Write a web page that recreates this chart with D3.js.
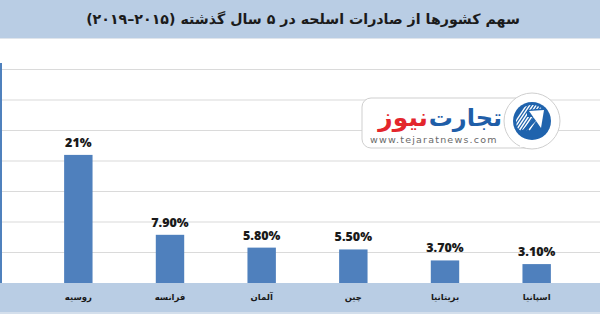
<!DOCTYPE html>
<html>
<head>
<meta charset="utf-8">
<script src="https://cdn.jsdelivr.net/npm/d3@7"></script>
<style>
  body { margin: 0; background: #fff; }
  svg { display: block; }
</style>
</head>
<body>
<script>
// chart data
var titleText = "سهم کشورها از صادرات اسلحه در ۵ سال گذشته (۲۰۱۵–۲۰۱۹)";
var countries = ["روسیه", "فرانسه", "آلمان", "چین", "بریتانیا", "اسپانیا"];
var shares = [21, 7.9, 5.8, 5.5, 3.7, 3.1];
var shareLabels = ["21%", "7.90%", "5.80%", "5.50%", "3.70%", "3.10%"];
var gridValues = [5, 10, 15, 20, 25, 30, 35];

var width = 600,
    height = 314;

var svg = d3.select("body")
  .append("svg")
  .attr("width", width)
  .attr("height", height);

// scales
var x = d3.scaleBand()
  .domain(countries)
  .range([32.5, 582.5])
  .paddingInner(0.69)
  .paddingOuter(0.345);

var y = d3.scaleLinear()
  .domain([0, 35])
  .range([283, 69.5]);

// header band
svg.append("rect")
  .attr("x", 0).attr("y", 0)
  .attr("width", width).attr("height", 38)
  .attr("fill", "#b9cde4");
svg.append("line")
  .attr("x1", 0).attr("x2", width)
  .attr("y1", 38.5).attr("y2", 38.5)
  .attr("stroke", "#dfe5ec");

svg.append("text")
  .attr("x", 303)
  .attr("y", 24)
  .attr("text-anchor", "middle")
  .attr("direction", "rtl")
  .attr("font-family", "DejaVu Sans")
  .attr("font-weight", "bold")
  .attr("font-size", 14.2)
  .attr("fill", "#1b1b1b")
  .text(titleText);

// gridlines
svg.append("g")
  .selectAll("line")
  .data(gridValues)
  .join("line")
  .attr("x1", 2).attr("x2", width)
  .attr("y1", function(d){ return y(d); })
  .attr("y2", function(d){ return y(d); })
  .attr("stroke", "#dadada")
  .attr("stroke-width", 1.2);

// left axis line
svg.append("line")
  .attr("x1", 1).attr("x2", 1)
  .attr("y1", 63).attr("y2", 283)
  .attr("stroke", "#4f81bd")
  .attr("stroke-width", 2);

// bottom category band
svg.append("rect")
  .attr("x", 0).attr("y", y(0))
  .attr("width", width).attr("height", 29)
  .attr("fill", "#b9cde4");
svg.append("rect")
  .attr("x", 0).attr("y", y(0) + 29)
  .attr("width", width).attr("height", 3)
  .attr("fill", "#d4dfec");

// bars
svg.append("g")
  .selectAll("rect")
  .data(shares)
  .join("rect")
  .attr("x", function(d, i){ return x(countries[i]); })
  .attr("y", function(d){ return y(d); })
  .attr("width", x.bandwidth())
  .attr("height", function(d){ return y(0) - y(d); })
  .attr("fill", "#4f80bd");

// value labels
svg.append("g")
  .selectAll("text")
  .data(shares)
  .join("text")
  .attr("x", function(d, i){ return x(countries[i]) + x.bandwidth() / 2; })
  .attr("y", function(d){ return y(d) - 8; })
  .attr("text-anchor", "middle")
  .attr("font-family", "Open Sans")
  .attr("font-weight", 800)
  .attr("font-size", 12.5)
  .attr("fill", "#1a1a1a")
  .text(function(d, i){ return shareLabels[i]; });

// category labels
var xAxis = d3.axisBottom(x).tickSize(0).tickPadding(0);
var axisG = svg.append("g")
  .attr("transform", "translate(0," + (y(0) + 17) + ")")
  .call(xAxis);
axisG.select(".domain").remove();
axisG.selectAll("text")
  .attr("direction", "rtl")
  .attr("dy", 0)
  .attr("font-family", "DejaVu Sans")
  .attr("font-weight", "bold")
  .attr("font-size", 8.5)
  .attr("fill", "#1a1a1a");

// watermark logo
var logo = svg.append("g");
logo.append("rect")
  .attr("x", 362).attr("y", 98)
  .attr("width", 180).attr("height", 50)
  .attr("rx", 9)
  .attr("fill", "#fff")
  .attr("stroke", "#cfcfcf");
logo.append("circle")
  .attr("cx", 532).attr("cy", 121)
  .attr("r", 28)
  .attr("fill", "#fff")
  .attr("stroke", "#cfcfcf");
logo.append("rect")
  .attr("x", 520).attr("y", 99)
  .attr("width", 14).attr("height", 48)
  .attr("fill", "#fff");
logo.append("circle")
  .attr("cx", 532).attr("cy", 121)
  .attr("r", 19)
  .attr("fill", "#1f63ad");
// stripes of the icon
var clip = svg.append("clipPath").attr("id", "iconClip");
clip.append("circle").attr("cx", 532).attr("cy", 121).attr("r", 16);
logo.append("g")
  .attr("clip-path", "url(#iconClip)")
  .selectAll("line")
  .data(d3.range(7))
  .join("line")
  .attr("x1", function(d){ return 510 + d * 3.2; })
  .attr("y1", 130)
  .attr("x2", function(d){ return 530 + d * 3.2; })
  .attr("y2", 100)
  .attr("stroke", "#fff")
  .attr("stroke-width", 1.4);
logo.append("path")
  .attr("d", "M527,110 L546,108 L542,131 L537,131 L538,119 L524,133 L522,131 L534,117 L527,117 Z")
  .attr("fill", "#1f63ad");
logo.append("path")
  .attr("d", "M529,111 L544,110 L541,128 Z")
  .attr("fill", "#fff");

logo.append("text")
  .attr("x", 502).attr("y", 126)
  .attr("text-anchor", "start")
  .attr("direction", "rtl")
  .attr("font-family", "DejaVu Sans")
  .attr("font-weight", "bold")
  .attr("font-size", 24)
  .attr("fill", "#1f5ea8")
  .text("تجارت");
logo.append("text")
  .attr("x", 428).attr("y", 126)
  .attr("text-anchor", "start")
  .attr("direction", "rtl")
  .attr("font-family", "DejaVu Sans")
  .attr("font-weight", "bold")
  .attr("font-size", 25)
  .attr("fill", "#e3262d")
  .text("نیوز");
logo.append("text")
  .attr("x", 370).attr("y", 143)
  .attr("font-family", "DejaVu Sans")
  .attr("font-size", 9.5)
  .attr("letter-spacing", 1.2)
  .attr("fill", "#6a6a6a")
  .text("www.tejaratnews.com");
</script>
</body>
</html>
